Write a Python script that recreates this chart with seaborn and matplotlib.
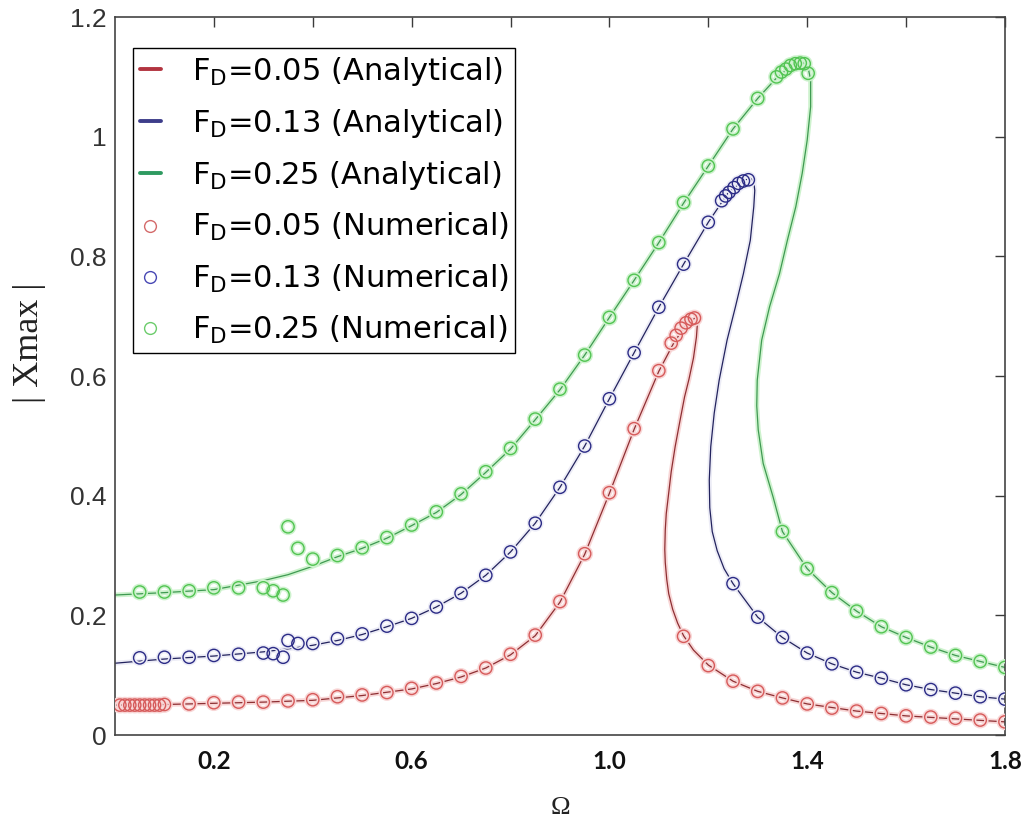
import matplotlib
matplotlib.use("Agg")
import matplotlib.pyplot as plt
import matplotlib.patheffects as pe
from matplotlib.lines import Line2D
import seaborn as sns

# ---------------- numerical (time-integration) results ----------------
omega_num_005 = [0.01, 0.02, 0.03, 0.04, 0.05, 0.06, 0.07, 0.08, 0.09, 0.10,
                 0.15, 0.20, 0.25, 0.30, 0.35, 0.40, 0.45, 0.50, 0.55, 0.60,
                 0.65, 0.70, 0.75, 0.80, 0.85, 0.90, 0.95, 1.00, 1.05, 1.10,
                 1.125, 1.135, 1.145, 1.155, 1.165, 1.172,
                 1.15, 1.20, 1.25, 1.30, 1.35, 1.40, 1.45, 1.50, 1.55, 1.60,
                 1.65, 1.70, 1.75, 1.80]
xmax_num_005 = [0.050, 0.050, 0.050, 0.050, 0.050, 0.050, 0.050, 0.050, 0.050, 0.051,
                0.052, 0.054, 0.055, 0.055, 0.057, 0.059, 0.064, 0.067, 0.071, 0.078,
                0.087, 0.098, 0.112, 0.135, 0.167, 0.223, 0.303, 0.405, 0.512, 0.609,
                0.655, 0.668, 0.680, 0.689, 0.695, 0.697,
                0.165, 0.116, 0.090, 0.073, 0.062, 0.052, 0.045, 0.040, 0.036, 0.032,
                0.030, 0.028, 0.025, 0.022]

omega_num_013 = [0.05, 0.10, 0.15, 0.20, 0.25, 0.30, 0.32, 0.34, 0.35, 0.37,
                 0.40, 0.45, 0.50, 0.55, 0.60, 0.65, 0.70, 0.75, 0.80, 0.85,
                 0.90, 0.95, 1.00, 1.05, 1.10, 1.15, 1.20,
                 1.227, 1.235, 1.242, 1.252, 1.261, 1.271, 1.281,
                 1.25, 1.30, 1.35, 1.40, 1.45, 1.50, 1.55, 1.60, 1.65, 1.70,
                 1.75, 1.80]
xmax_num_013 = [0.129, 0.130, 0.130, 0.133, 0.135, 0.137, 0.136, 0.130, 0.158, 0.153,
                0.153, 0.161, 0.169, 0.182, 0.195, 0.214, 0.237, 0.267, 0.306, 0.354,
                0.414, 0.483, 0.562, 0.639, 0.715, 0.787, 0.857,
                0.893, 0.901, 0.907, 0.915, 0.922, 0.926, 0.928,
                0.253, 0.197, 0.163, 0.137, 0.119, 0.105, 0.095, 0.084, 0.076, 0.070,
                0.064, 0.060]

omega_num_025 = [0.05, 0.10, 0.15, 0.20, 0.25, 0.30, 0.32, 0.34, 0.35, 0.37,
                 0.40, 0.45, 0.50, 0.55, 0.60, 0.65, 0.70, 0.75, 0.80, 0.85,
                 0.90, 0.95, 1.00, 1.05, 1.10, 1.15, 1.20, 1.25, 1.30,
                 1.338, 1.348, 1.357, 1.366, 1.376, 1.386, 1.394, 1.402,
                 1.35, 1.40, 1.45, 1.50, 1.55, 1.60, 1.65, 1.70, 1.75, 1.80]
xmax_num_025 = [0.239, 0.239, 0.241, 0.246, 0.246, 0.246, 0.241, 0.234, 0.348, 0.312,
                0.294, 0.300, 0.313, 0.330, 0.351, 0.373, 0.403, 0.440, 0.479, 0.528,
                0.578, 0.635, 0.698, 0.760, 0.823, 0.890, 0.951, 1.013, 1.064,
                1.100, 1.108, 1.113, 1.119, 1.122, 1.123, 1.122, 1.106,
                0.340, 0.278, 0.238, 0.207, 0.181, 0.163, 0.147, 0.133, 0.123, 0.113]

# ---------------- analytical frequency-response curves ----------------
# each path runs along the upper branch, back over the unstable middle
# branch and out along the lower branch
omega_ana_005 = [0.00, 0.10, 0.20, 0.30, 0.40, 0.50, 0.60, 0.65, 0.70, 0.75,
                 0.80, 0.85, 0.90, 0.95, 1.00, 1.05, 1.10, 1.13, 1.15, 1.165,
                 1.174, 1.178, 1.176, 1.170, 1.161, 1.152, 1.142, 1.133, 1.125, 1.119,
                 1.115, 1.113, 1.112, 1.113, 1.116, 1.120, 1.128, 1.138, 1.150, 1.170,
                 1.20, 1.25, 1.30, 1.35, 1.40, 1.50, 1.60, 1.70, 1.80]
xmax_ana_005 = [0.050, 0.051, 0.053, 0.055, 0.058, 0.066, 0.077, 0.086, 0.097, 0.112,
                0.134, 0.166, 0.222, 0.302, 0.404, 0.511, 0.608, 0.655, 0.680, 0.693,
                0.697, 0.688, 0.665, 0.630, 0.595, 0.565, 0.522, 0.482, 0.440, 0.398,
                0.370, 0.343, 0.310, 0.288, 0.260, 0.236, 0.210, 0.187, 0.166, 0.142,
                0.117, 0.090, 0.073, 0.062, 0.052, 0.040, 0.032, 0.027, 0.022]

omega_ana_013 = [0.00, 0.10, 0.20, 0.30, 0.35, 0.40, 0.45, 0.50, 0.55, 0.60,
                 0.65, 0.70, 0.75, 0.80, 0.85, 0.90, 0.95, 1.00, 1.05, 1.10,
                 1.15, 1.20, 1.24, 1.27, 1.285, 1.292, 1.294,
                 1.292, 1.285, 1.271, 1.255, 1.238, 1.222, 1.212, 1.205, 1.202,
                 1.203, 1.208, 1.218, 1.232, 1.25,
                 1.30, 1.35, 1.40, 1.45, 1.50, 1.55, 1.60, 1.65, 1.70, 1.75, 1.80]
xmax_ana_013 = [0.120, 0.127, 0.132, 0.139, 0.144, 0.150, 0.158, 0.168, 0.181, 0.195,
                0.214, 0.237, 0.267, 0.306, 0.354, 0.414, 0.483, 0.562, 0.639, 0.715,
                0.787, 0.857, 0.906, 0.926, 0.931, 0.925, 0.910,
                0.883, 0.827, 0.771, 0.716, 0.660, 0.593, 0.538, 0.482, 0.426,
                0.380, 0.340, 0.308, 0.278, 0.253,
                0.197, 0.163, 0.137, 0.119, 0.105, 0.095, 0.084, 0.076, 0.070, 0.064, 0.060]

omega_ana_025 = [0.00, 0.10, 0.20, 0.30, 0.35, 0.40, 0.45, 0.50, 0.55, 0.60,
                 0.65, 0.70, 0.75, 0.80, 0.85, 0.90, 0.95, 1.00, 1.05, 1.10,
                 1.15, 1.20, 1.25, 1.30, 1.34, 1.37, 1.39, 1.402, 1.407,
                 1.407, 1.400, 1.390, 1.377, 1.360, 1.344, 1.324, 1.308, 1.299, 1.298,
                 1.301, 1.311, 1.331, 1.35,
                 1.40, 1.45, 1.50, 1.55, 1.60, 1.65, 1.70, 1.75, 1.80]
xmax_ana_025 = [0.234, 0.238, 0.243, 0.258, 0.268, 0.282, 0.298, 0.312, 0.329, 0.350,
                0.372, 0.402, 0.439, 0.478, 0.527, 0.577, 0.635, 0.698, 0.760, 0.823,
                0.889, 0.951, 1.013, 1.064, 1.100, 1.119, 1.125, 1.115, 1.095,
                1.050, 0.994, 0.939, 0.883, 0.827, 0.771, 0.716, 0.660, 0.593, 0.550,
                0.510, 0.454, 0.398, 0.340,
                0.278, 0.238, 0.207, 0.181, 0.163, 0.147, 0.133, 0.123, 0.113]

x_ticks = [0.2, 0.4, 0.6, 0.8, 1.0, 1.2, 1.4, 1.6, 1.8]
x_tick_labels = ["0.2", "", "0.6", "", "1.0", "", "1.4", "", "1.8"]
y_ticks = [0.0, 0.2, 0.4, 0.6, 0.8, 1.0, 1.2]
y_tick_labels = ["0", "0.2", "0.4", "0.6", "0.8", "1", "1.2"]

legend_labels = [r"F$_{\mathregular{D}}$=0.05 (Analytical)",
                 r"F$_{\mathregular{D}}$=0.13 (Analytical)",
                 r"F$_{\mathregular{D}}$=0.25 (Analytical)",
                 r"F$_{\mathregular{D}}$=0.05 (Numerical)",
                 r"F$_{\mathregular{D}}$=0.13 (Numerical)",
                 r"F$_{\mathregular{D}}$=0.25 (Numerical)"]

# ---------------- styling ----------------
sns.set_style("white")
plt.rcParams["font.family"] = ["Liberation Sans", "DejaVu Sans"]
plt.rcParams["mathtext.default"] = "regular"

line_cols = {"r": "#8e2f33", "b": "#23235e", "g": "#3f9a52"}
mark_cols = {"r": "#d65a5a", "b": "#2b2b86", "g": "#52c452"}
halo_cols = {"r": "#f8d6d6", "b": "#ececf6", "g": "#cdf2cd"}
leg_line_cols = {"r": "#b23440", "b": "#3d3d8a", "g": "#2e9a60"}
leg_mark_cols = {"r": "#d46a6a", "b": "#4848b4", "g": "#6ccc6c"}

fig = plt.figure(figsize=(10.34, 8.23), dpi=100)
ax = fig.add_axes([0.1112, 0.1069, 0.8607, 0.8724])

curves = [("r", omega_ana_005, xmax_ana_005, omega_num_005, xmax_num_005),
          ("b", omega_ana_013, xmax_ana_013, omega_num_013, xmax_num_013),
          ("g", omega_ana_025, xmax_ana_025, omega_num_025, xmax_num_025)]

for key, wa, xa, wn, xn in curves:
    sns.lineplot(x=wa, y=xa, sort=False, estimator=None, color=line_cols[key],
                 linewidth=0.9, ax=ax, legend=False, zorder=2)
    ax.lines[-1].set_path_effects([pe.Stroke(linewidth=3.5, foreground=halo_cols[key]),
                                   pe.Normal()])
    sns.scatterplot(x=wn, y=xn, marker="o", s=78, facecolor="none",
                    edgecolor=mark_cols[key], linewidth=1.0, ax=ax,
                    legend=False, zorder=3)
    ax.collections[-1].set_path_effects([pe.Stroke(linewidth=3.2, foreground=halo_cols[key]),
                                         pe.Normal()])

ax.set_xlim(0, 1.8)
ax.set_ylim(0, 1.2)
ax.set_xticks(x_ticks, x_tick_labels)
ax.set_yticks(y_ticks, y_tick_labels)
ax.tick_params(direction="in", length=7, width=1.0, color="#3a3a3a",
               top=True, right=True)
ax.tick_params(axis="x", pad=11)
ax.tick_params(axis="y", pad=6)
for lab in ax.get_xticklabels():
    lab.set_fontfamily("Lato")
    lab.set_fontweight("bold")
    lab.set_fontsize(17.5)
    lab.set_color("#111111")
for lab in ax.get_yticklabels():
    lab.set_fontsize(19)
    lab.set_color("#333333")

for sp in ax.spines.values():
    sp.set_color("#444444")
    sp.set_linewidth(1.2)

ax.set_xlabel("Ω", fontfamily="Liberation Serif", fontsize=19, color="#222222")
ax.xaxis.set_label_coords(0.5, -0.087)
ax.set_ylabel("| Xmax |", fontfamily="Liberation Serif", fontsize=26, color="#222222")
ax.yaxis.set_label_coords(-0.077, 0.546)

handles = [Line2D([], [], color=leg_line_cols[k], lw=2.8) for k in "rbg"]
handles += [Line2D([], [], ls="none", marker="o", markersize=8.5, mfc="none",
                   mec=leg_mark_cols[k], mew=1.0) for k in "rbg"]
leg = ax.legend(handles, legend_labels, loc="upper left",
                bbox_to_anchor=(0.0202, 0.957), borderaxespad=0,
                prop={"family": "DejaVu Sans", "size": 22},
                handlelength=0.7, handletextpad=1.0,
                borderpad=0.22, labelspacing=0.63, frameon=True,
                fancybox=False, framealpha=1.0, edgecolor="black")
leg.get_frame().set_linewidth(1.0)
for txt in leg.get_texts():
    txt.set_color("black")

fig.savefig("out.png", dpi=100)
